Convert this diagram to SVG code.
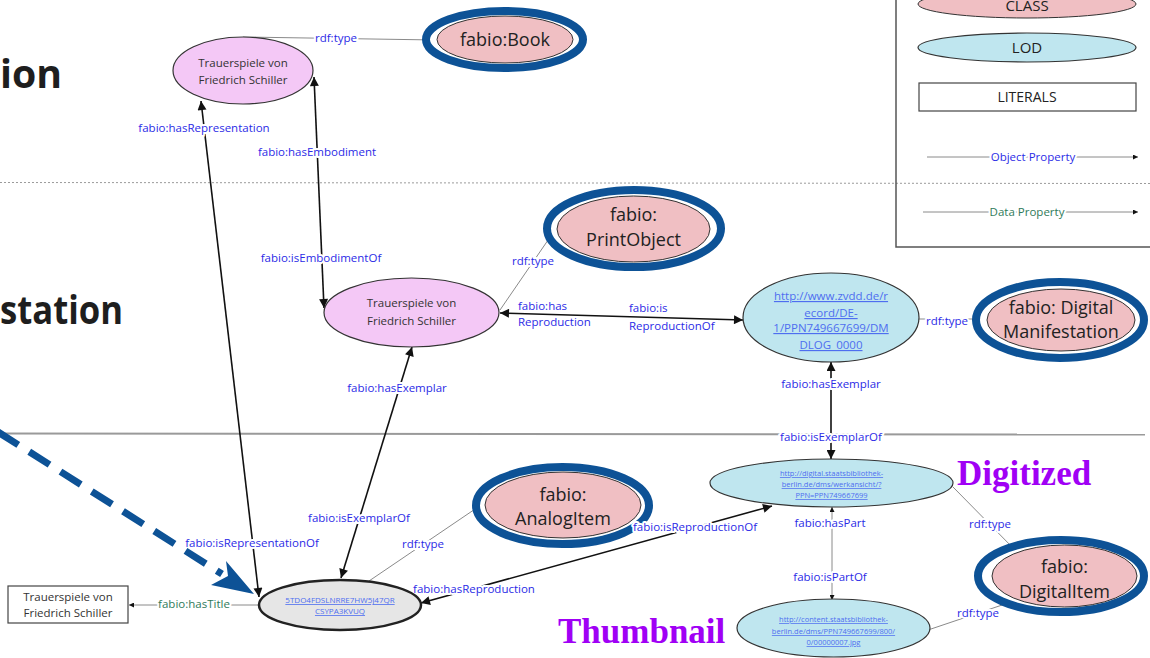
<svg xmlns="http://www.w3.org/2000/svg" width="1150" height="658" viewBox="0 0 1150 658">
<defs>
<style>
.lbl{font-family:"Open Sans","Noto Sans",sans-serif;font-size:11.5px;fill:#2b2be6;stroke:#fff;stroke-width:4px;paint-order:stroke;stroke-linejoin:round}
.dlbl{font-family:"Open Sans","Noto Sans",sans-serif;font-size:11.5px;fill:#2f7a5a;stroke:#fff;stroke-width:4px;paint-order:stroke;stroke-linejoin:round}
.obj{stroke:#111;stroke-width:1.6;fill:none}
.typ{stroke:#8a8a8a;stroke-width:1;fill:none}
.work{fill:#f4c8f6;stroke:#333;stroke-width:1.2}
.cls{fill:#f0bfc3;stroke:#333;stroke-width:1}
.ring{fill:#fff;stroke:#0d5296;stroke-width:8}
.lod{fill:#bfe6ef;stroke:#333;stroke-width:1.2}
.nt{font-family:"Open Sans","Noto Sans",sans-serif;font-size:11.5px;fill:#333;text-anchor:middle}
.ct{font-family:"Open Sans","Noto Sans",sans-serif;font-size:18px;fill:#222;text-anchor:middle}
.link{font-family:"Open Sans","Noto Sans",sans-serif;fill:#4e6ef0;text-anchor:middle;text-decoration:underline}
.big{font-family:"Open Sans","Noto Sans",sans-serif;font-weight:bold;font-size:40px;fill:#1e1e1e}
.ann{font-family:"Liberation Serif",serif;font-weight:bold;font-size:35px;fill:#a000f5}
</style>
<marker id="ar" viewBox="0 0 10 10" refX="10" refY="5" markerWidth="10" markerHeight="9" markerUnits="userSpaceOnUse" orient="auto-start-reverse"><path d="M0,0 L10,5 L0,10 z" fill="#111"/></marker>
<marker id="sm" viewBox="0 0 10 10" refX="10" refY="5" markerWidth="6" markerHeight="5" markerUnits="userSpaceOnUse" orient="auto-start-reverse"><path d="M0,0 L10,5 L0,10 z" fill="#111"/></marker>
</defs>
<rect width="1150" height="658" fill="#fff"/>

<g id="background">
<text class="big" x="0" y="88" textLength="62" lengthAdjust="spacingAndGlyphs">ion</text>
<text class="big" x="0" y="324" textLength="123" lengthAdjust="spacingAndGlyphs">station</text>
<line x1="0" y1="182.5" x2="1150" y2="183.5" stroke="#9a9a9a" stroke-width="1" stroke-dasharray="2 2"/>
<line x1="0" y1="433.5" x2="1145" y2="434.5" stroke="#9a9a9a" stroke-width="2"/>
</g>

<g id="legend">
<rect x="896" y="-10" width="270" height="257" fill="none" stroke="#555" stroke-width="1.5"/>
<ellipse cx="1027" cy="4" rx="109" ry="14" class="cls"/>
<text class="ct" x="1027" y="11" style="font-size:15px">CLASS</text>
<ellipse cx="1027" cy="47.5" rx="109" ry="14.5" class="lod"/>
<text class="ct" x="1027" y="53" style="font-size:15px">LOD</text>
<rect x="919" y="83" width="217" height="28" fill="#fff" stroke="#444" stroke-width="1.2"/>
<text class="ct" x="1027" y="102" style="font-size:14px">LITERALS</text>
<line x1="927" y1="157" x2="1138" y2="157" class="typ" marker-end="url(#sm)"/>
<text class="lbl" x="1033" y="161" text-anchor="middle">Object Property</text>
<line x1="923" y1="212" x2="1138" y2="212" class="typ" marker-end="url(#sm)"/>
<text class="dlbl" x="1027" y="216" text-anchor="middle">Data Property</text>
</g>

<g id="connectors">
<line x1="243" y1="37" x2="436" y2="40" class="typ" marker-end="url(#sm)"/>
<line x1="259" y1="597" x2="201" y2="101" class="obj" marker-start="url(#ar)" marker-end="url(#ar)"/>
<line x1="314" y1="77" x2="324" y2="308" class="obj" marker-start="url(#ar)" marker-end="url(#ar)"/>
<line x1="412" y1="347" x2="341" y2="578" class="obj" marker-start="url(#ar)" marker-end="url(#ar)"/>
<line x1="500" y1="310" x2="557" y2="227" class="typ" marker-end="url(#sm)"/>
<line x1="500" y1="313" x2="743" y2="320" class="obj" marker-start="url(#ar)" marker-end="url(#ar)"/>
<line x1="919" y1="319" x2="986" y2="319" class="typ" marker-end="url(#sm)"/>
<line x1="831" y1="362" x2="831" y2="459" class="obj" marker-start="url(#ar)" marker-end="url(#ar)"/>
<line x1="421" y1="603" x2="772" y2="506" class="obj" marker-start="url(#ar)" marker-end="url(#ar)"/>
<line x1="369" y1="581" x2="484" y2="503" class="typ" marker-end="url(#sm)"/>
<line x1="832" y1="507" x2="832" y2="600" class="typ" marker-start="url(#sm)" marker-end="url(#sm)"/>
<line x1="953" y1="487" x2="1017" y2="552" class="typ" marker-end="url(#sm)"/>
<line x1="928" y1="630" x2="1014" y2="601" class="typ" marker-end="url(#sm)"/>
<line x1="259" y1="605" x2="129" y2="605" class="typ" marker-end="url(#sm)"/>

<text class="lbl" x="336" y="42" text-anchor="middle">rdf:type</text>
<text class="lbl" x="204" y="132" text-anchor="middle">fabio:hasRepresentation</text>
<text class="lbl" x="317" y="156" text-anchor="middle">fabio:hasEmbodiment</text>
<text class="lbl" x="321" y="262" text-anchor="middle">fabio:isEmbodimentOf</text>
<text class="lbl" x="533" y="265" text-anchor="middle">rdf:type</text>
<text class="lbl" x="518" y="310">fabio:has</text>
<text class="lbl" x="518" y="326">Reproduction</text>
<text class="lbl" x="629" y="312">fabio:is</text>
<text class="lbl" x="629" y="330">ReproductionOf</text>
<text class="lbl" x="947" y="325" text-anchor="middle">rdf:type</text>
<text class="lbl" x="397" y="392" text-anchor="middle">fabio:hasExemplar</text>
<text class="lbl" x="359" y="522" text-anchor="middle">fabio:isExemplarOf</text>
<text class="lbl" x="252" y="547" text-anchor="middle">fabio:isRepresentationOf</text>
<text class="lbl" x="423" y="548" text-anchor="middle">rdf:type</text>
<text class="dlbl" x="194" y="608" text-anchor="middle">fabio:hasTitle</text>
<text class="lbl" x="474" y="593" text-anchor="middle">fabio:hasReproduction</text>
<text class="lbl" x="831" y="388" text-anchor="middle">fabio:hasExemplar</text>
<text class="lbl" x="831" y="441" text-anchor="middle">fabio:isExemplarOf</text>
<text class="lbl" x="830" y="527" text-anchor="middle">fabio:hasPart</text>
<text class="lbl" x="830" y="581" text-anchor="middle">fabio:isPartOf</text>
<text class="lbl" x="990" y="528" text-anchor="middle">rdf:type</text>
<text class="lbl" x="978" y="617" text-anchor="middle">rdf:type</text>
</g>

<g id="work">
<ellipse cx="243" cy="70.5" rx="70" ry="33.5" class="work"/>
<text class="nt" x="243" y="67">Trauerspiele von</text>
<text class="nt" x="243" y="84">Friedrich Schiller</text>
</g>

<g id="book">
<ellipse cx="504.5" cy="39.5" rx="78.5" ry="28.5" class="ring"/>
<ellipse cx="505" cy="39.5" rx="68" ry="23.5" class="cls"/>
<text class="ct" x="505" y="46">fabio:Book</text>
</g>

<g id="manifestation">
<ellipse cx="411.5" cy="312.5" rx="87.5" ry="34.5" class="work"/>
<text class="nt" x="411.5" y="307">Trauerspiele von</text>
<text class="nt" x="411.5" y="325">Friedrich Schiller</text>
</g>

<g id="printobject">
<ellipse cx="634" cy="228.5" rx="87" ry="38.5" class="ring"/>
<ellipse cx="633.5" cy="229" rx="76.5" ry="33" class="cls"/>
<text class="ct" x="633.5" y="221">fabio:</text>
<text class="ct" x="633.5" y="246">PrintObject</text>
</g>

<g id="zvdd">
<ellipse cx="831" cy="317.5" rx="88" ry="44.5" class="lod"/>
<text class="link" x="831" y="300" style="font-size:11.5px">http://www.zvdd.de/r</text>
<text class="link" x="831" y="317" style="font-size:11.5px">ecord/DE-</text>
<text class="link" x="831" y="332" style="font-size:11.5px">1/PPN749667699/DM</text>
<text class="link" x="831" y="349" style="font-size:11.5px">DLOG_0000</text>
</g>

<g id="digitalmanifestation">
<ellipse cx="1060" cy="320" rx="84" ry="38" class="ring"/>
<ellipse cx="1061" cy="320" rx="74" ry="31" class="cls"/>
<text class="ct" x="1061" y="314">fabio: Digital</text>
<text class="ct" x="1061" y="338">Manifestation</text>
</g>

<g id="digitalobject">
<ellipse cx="831.5" cy="483" rx="121.5" ry="24" class="lod"/>
<text class="link" x="831.5" y="476" style="font-size:7.5px">http://digital.staatsbibliothek-</text>
<text class="link" x="831.5" y="487" style="font-size:7.5px">berlin.de/dms/werkansicht/?</text>
<text class="link" x="831.5" y="498" style="font-size:7.5px">PPN=PPN749667699</text>
</g>

<g id="thumbnailnode">
<ellipse cx="833.5" cy="628" rx="96.5" ry="29" class="lod"/>
<text class="link" x="833.5" y="622" style="font-size:7.5px">http://content.staatsbibliothek-</text>
<text class="link" x="833.5" y="634" style="font-size:7.5px">berlin.de/dms/PPN749667699/800/</text>
<text class="link" x="833.5" y="645" style="font-size:7.5px">0/00000007.jpg</text>
</g>

<g id="digitalitem">
<ellipse cx="1061" cy="576" rx="83" ry="36" class="ring"/>
<ellipse cx="1064.5" cy="576" rx="72.5" ry="31" class="cls"/>
<text class="ct" x="1064.5" y="573">fabio:</text>
<text class="ct" x="1064.5" y="598">DigitalItem</text>
</g>

<g id="analogitem">
<ellipse cx="562.5" cy="505.5" rx="86.5" ry="38.5" class="ring"/>
<ellipse cx="563" cy="505" rx="78" ry="33" class="cls"/>
<text class="ct" x="563" y="501">fabio:</text>
<text class="ct" x="563" y="525">AnalogItem</text>
</g>
<text class="lbl" x="695" y="531" text-anchor="middle">fabio:isReproductionOf</text>

<g id="item">
<ellipse cx="340" cy="605" rx="81" ry="25" fill="#e6e6e6" stroke="#222" stroke-width="2.5"/>
<text class="link" x="340" y="603" style="font-size:8px">5TDO4FDSLNRRE7HW5J47QR</text>
<text class="link" x="340" y="614" style="font-size:8px">CSYPA3KVUQ</text>
</g>

<g id="title">
<rect x="8" y="586" width="120" height="37" fill="#fff" stroke="#444" stroke-width="1.2"/>
<text class="nt" x="68" y="601">Trauerspiele von</text>
<text class="nt" x="68" y="617">Friedrich Schiller</text>
</g>

<g id="annotations">
<text class="ann" x="957" y="485">Digitized</text>
<text class="ann" x="558" y="643">Thumbnail</text>
<line x1="-2" y1="432" x2="222" y2="574" stroke="#0d5296" stroke-width="7" stroke-dasharray="24 13"/>
<polygon points="254,594 211,585 228,576 226,561" fill="#0d5296"/>
</g>
</svg>
